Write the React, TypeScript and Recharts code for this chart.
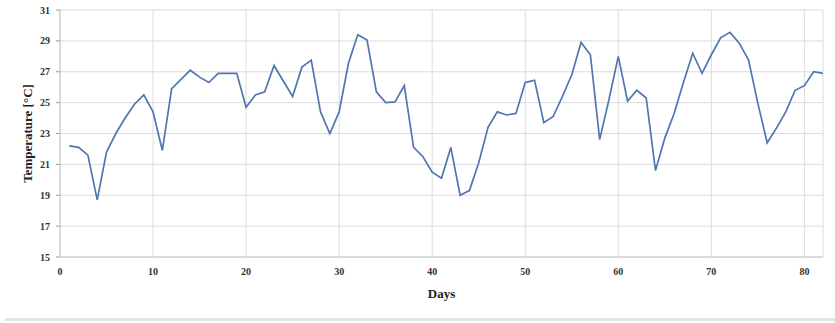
import React from 'react';
import { LineChart, Line, XAxis, YAxis, CartesianGrid } from 'recharts';

const days: number[] = Array.from({ length: 82 }, (_, i) => i + 1);
const temperature: number[] = [
  22.2, 22.1, 21.6, 18.7, 21.8, 23.0, 24.0, 24.9, 25.5, 24.4,
  21.9, 25.9, 26.5, 27.1, 26.65, 26.3, 26.9, 26.9, 26.9, 24.7,
  25.5, 25.7, 27.4, 26.4, 25.4, 27.3, 27.75, 24.4, 23.0, 24.4,
  27.55, 29.4, 29.05, 25.7, 25.0, 25.05, 26.1, 22.1, 21.5, 20.5,
  20.1, 22.1, 19.0, 19.3, 21.1, 23.4, 24.4, 24.2, 24.3, 26.3,
  26.45, 23.7, 24.1, 25.4, 26.8, 28.9, 28.1, 22.6, 25.2, 28.0,
  25.1, 25.8, 25.3, 20.6, 22.7, 24.3, 26.3, 28.2, 26.9, 28.1,
  29.2, 29.55, 28.85, 27.75, 24.95, 22.4, 23.35, 24.4, 25.8, 26.1,
  27.0, 26.9,
];
const xTicks: number[] = [0, 10, 20, 30, 40, 50, 60, 70, 80];
const yTicks: number[] = [15, 17, 19, 21, 23, 25, 27, 29, 31];

const data = days.map((d, i) => ({ day: d, temp: temperature[i] }));

const font = '"Liberation Serif", "DejaVu Serif", serif';

export default function App() {
  return (
    <div style={{ position: 'absolute', left: 0, top: 0, width: 835, height: 323, background: '#fff' }}>
      <LineChart
        width={835}
        height={323}
        data={data}
        margin={{ top: 10, right: 12, bottom: 16, left: 0 }}
      >
        <CartesianGrid stroke="#dcdcdc" strokeWidth={1} />
        <XAxis
          dataKey="day"
          type="number"
          domain={[0, 82]}
          ticks={xTicks}
          height={50}
          tickLine={false}
          tickSize={5}
          tickMargin={6}
          axisLine={{ stroke: '#c8c8c8' }}
          tick={{ fontSize: 10, fontFamily: font, fontWeight: 'bold', fill: '#333' }}
          label={{ value: 'Days', position: 'insideBottom', offset: 9, style: { fontSize: 13, fontFamily: font, fontWeight: 'bold', fill: '#222' } }}
          allowDataOverflow
        />
        <YAxis
          type="number"
          domain={[15, 31]}
          ticks={yTicks}
          width={60}
          tickSize={4}
          tickMargin={6}
          tickLine={{ stroke: '#999' }}
          axisLine={{ stroke: '#c8c8c8' }}
          tick={{ fontSize: 10, fontFamily: font, fontWeight: 'bold', fill: '#333' }}
          label={{ value: 'Temperature [°C]', angle: -90, position: 'insideLeft', offset: 27, style: { textAnchor: 'middle', fontSize: 13, fontFamily: font, fontWeight: 'bold', fill: '#222' } }}
        />
        <Line
          type="linear"
          dataKey="temp"
          stroke="#5076b0"
          strokeWidth={1.7}
          dot={false}
          isAnimationActive={false}
        />
      </LineChart>
      <div style={{ position: 'absolute', left: 5, top: 318, width: 830, height: 3, background: '#e4e4e4' }} />
    </div>
  );
}
